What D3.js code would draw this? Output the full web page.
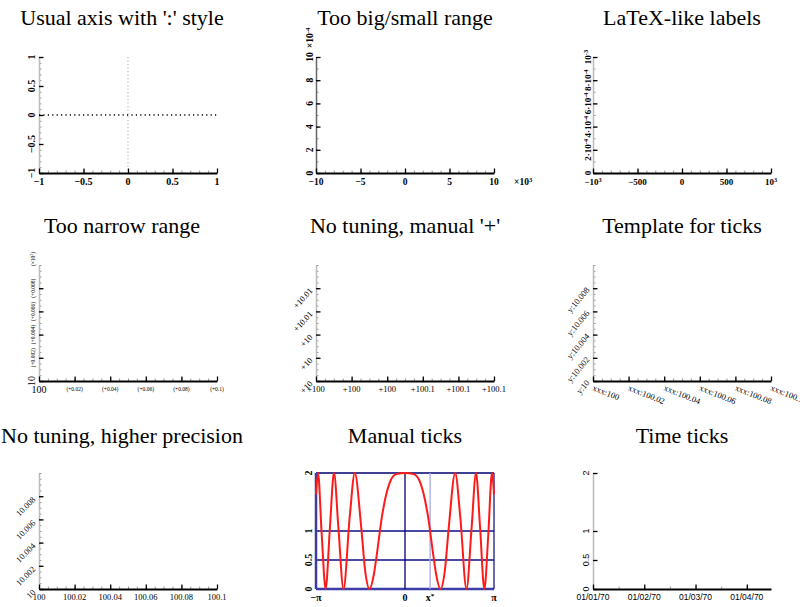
<!DOCTYPE html>
<html><head><meta charset="utf-8">
<script src="https://cdn.jsdelivr.net/npm/d3@7/dist/d3.min.js"></script>
<style>
body{margin:0;background:#fff}
text{font-family:"Liberation Serif","Times New Roman",serif;fill:#000}
</style>
</head><body>
<svg id="c" width="800" height="607"></svg>
<script>
// ---------- data ----------
const titles = ["Usual axis with ':' style","Too big/small range","LaTeX-like labels",
  "Too narrow range","No tuning, manual '+'","Template for ticks",
  "No tuning, higher precision","Manual ticks","Time ticks"];

// panel 1
const p1X = [-1,-0.5,0,0.5,1], p1XL = ["−1","−0.5","0","0.5","1"];
const p1Y = [-1,-0.5,0,0.5,1], p1YL = ["−1","−0.5","0","0.5","1"];
// panel 2 (x in 10^3, y in 10^-4)
const p2X = [-10,-5,0,5,10], p2XL = ["−10","−5","0","5","10"];
const p2Y = [0,2,4,6,8,10], p2YL = ["0","2","4","6","8","10"];
// panel 3
const p3X = [-1000,-500,0,500,1000], p3XL = ["−10^{3}","−500","0","500","10^{3}"];
const p3Y = [0,0.0002,0.0004,0.0006,0.0008,0.001], p3YL = ["0","2·10^{-4}","4·10^{-4}","6·10^{-4}","8·10^{-4}","10^{-3}"];
// narrow range panels
const nX = [100,100.02,100.04,100.06,100.08,100.1];
const nY = [10,10.002,10.004,10.006,10.008];
const p4XL = ["100","(+0.02)","(+0.04)","(+0.06)","(+0.08)","(+0.1)"];
const p4YL = ["10","(+0.002)","(+0.004)","(+0.006)","(+0.008)"];
const p5XL = ["+100","+100","+100","+100.1","+100.1","+100.1"];
const p5YL = ["+10","+10","+10","+10.01","+10.01"];
const p6XL = ["xxx:100","xxx:100.02","xxx:100.04","xxx:100.06","xxx:100.08","xxx:100.1"];
const p6YL = ["y:10","y:10.002","y:10.004","y:10.006","y:10.008"];
const p7XL = ["100","100.02","100.04","100.06","100.08","100.1"];
const p7YL = ["10","10.002","10.004","10.006","10.008"];
// panel 8 manual ticks
const p8X = [-Math.PI,0,0.886,Math.PI], p8XL = ["−π","0","x^{*}","π"];
const p8Y = [0,0.5,1,2], p8YL = ["0","0.5","1","2"];
const curveX = [-3.1416,-3.07,-2.94,-2.802,-2.65,-2.507,-2.35,-2.171,-1.95,-1.772,-1.55,-1.4,-1.253,-1.1,-1.0,-0.8,-0.5,-0.3,0,
                0.3,0.5,0.8,1.0,1.1,1.253,1.4,1.55,1.772,1.95,2.171,2.35,2.507,2.65,2.802,2.94,3.07,3.1416];
const curveY = [1.63,2,0.94,0,1.06,2,1.05,0,1.25,2,1.09,0.29,0,0.25,0.58,1.29,1.88,1.98,2,
                1.98,1.88,1.29,0.58,0.25,0,0.29,1.09,2,1.25,0,1.05,2,1.06,0,0.94,2,1.63];
// panel 9 time ticks (seconds)
const p9X = [0,86400,172800,259200], p9XL = ["01/01/70","01/02/70","01/03/70","01/04/70"];
const p9Y = [0,0.5,1,2], p9YL = ["0","0.5","1","2"];

// ---------- layout ----------
const svg = d3.select("#c");
const W = 178, H = 116;
const colX = [39,316,593], rowY = [57,265,473];
const titleCx = [122,405,682], titleY = [25,233,443];
function box(i){const c=i%3,r=Math.floor(i/3);return {x0:colX[c],y0:rowY[r],x1:colX[c]+W,y1:rowY[r]+H};}

titles.forEach((t,i)=>{
  svg.append("text").attr("x",titleCx[i%3]).attr("y",titleY[Math.floor(i/3)])
    .attr("text-anchor","middle").attr("font-size",22).text(t);
});

function label(g,x,y,str,o){
  o=o||{};
  const t=g.append("text").attr("font-size",o.size||10)
    .attr("font-weight",o.weight||"normal")
    .attr("text-anchor",o.anchor||"middle")
    .attr("transform",`translate(${x},${y}) rotate(${o.rot||0})`);
  if(o.family) t.style("font-family",o.family);
  const parts=str.split(/\^\{([^}]*)\}/);
  parts.forEach((p,k)=>{
    if(p==="") return;
    if(k%2===1){
      t.append("tspan").attr("font-size",(o.size||10)*0.7).attr("dy","-0.45em").text(p);
      if(k<parts.length-1 && parts[k+1]!=="") t.append("tspan").attr("dy","0.45em").text("");
    } else {
      const prevSup = k>0;
      const ts=t.append("tspan").text(p);
      if(prevSup) ts.attr("dy","0.32em");
    }
  });
  return t;
}

function axes(g,xs,ys,p,o){
  // y axis
  if(o.yMinor){
    const gm=g.append("g").attr("transform",`translate(${p.x0},0)`)
      .call(d3.axisLeft(ys).tickValues(o.yMinor).tickSize(-2.5).tickFormat(""));
    gm.select(".domain").remove();
    gm.selectAll("line").attr("stroke","#999");
  }
  const gy=g.append("g").attr("transform",`translate(${p.x0},0)`)
    .call(d3.axisLeft(ys).tickValues(o.yMajor).tickSizeInner(-4.5).tickSizeOuter(0).tickFormat(""));
  gy.select(".domain").attr("stroke",o.yColor||"#bbb").attr("stroke-width",1.5);
  gy.selectAll("line").attr("stroke","#000").attr("stroke-width",1.3);
  // x axis
  if(o.xMinor){
    const gm=g.append("g").attr("transform",`translate(0,${p.y1})`)
      .call(d3.axisBottom(xs).tickValues(o.xMinor).tickSize(-2.5).tickFormat(""));
    gm.select(".domain").remove();
    gm.selectAll("line").attr("stroke","#999");
  }
  const gx=g.append("g").attr("transform",`translate(0,${p.y1})`)
    .call(d3.axisBottom(xs).tickValues(o.xMajor).tickSizeInner(-4.5).tickSizeOuter(0).tickFormat(""));
  gx.select(".domain").attr("stroke","#000").attr("stroke-width",2);
  gx.selectAll("line").attr("stroke","#000").attr("stroke-width",1.3);
}

function mk(i,xd,yd){
  const p=box(i);
  return {p, g:svg.append("g"),
    xs:d3.scaleLinear().domain(xd).range([p.x0,p.x1]),
    ys:d3.scaleLinear().domain(yd).range([p.y1,p.y0])};
}

// ---- panel 1 ----
{
  const {p,g,xs,ys}=mk(0,[-1,1],[-1,1]);
  g.append("line").attr("x1",xs(0)).attr("x2",xs(0)).attr("y1",p.y0).attr("y2",p.y1)
    .attr("stroke","#bbb").attr("stroke-width",1.2).attr("stroke-dasharray","1.2,2.3");
  axes(g,xs,ys,p,{xMajor:p1X,xMinor:xs.ticks(20),yMajor:p1Y,yMinor:ys.ticks(20)});
  g.append("line").attr("x1",p.x0).attr("x2",p.x1).attr("y1",ys(0)).attr("y2",ys(0))
    .attr("stroke","#000").attr("stroke-width",1.3).attr("stroke-dasharray","1.2,3.2");
  p1X.forEach((v,k)=>label(g,xs(v),p.y1+12,p1XL[k],{size:10,weight:"bold"}));
  p1Y.forEach((v,k)=>label(g,p.x0-4,ys(v),p1YL[k],{size:10,weight:"bold",rot:-90}));
}
// ---- panel 2 ----
{
  const {p,g,xs,ys}=mk(1,[-10,10],[0,10]);
  axes(g,xs,ys,p,{xMajor:p2X,xMinor:xs.ticks(20),yMajor:p2Y,yMinor:ys.ticks(10),yColor:"#666"});
  p2X.forEach((v,k)=>label(g,xs(v),p.y1+12,p2XL[k],{size:9.5,weight:"bold"}));
  p2Y.forEach((v,k)=>label(g,p.x0-3,ys(v),p2YL[k],{size:9.5,weight:"bold",rot:-90}));
  label(g,p.x1+20,p.y1+12,"×10^{3}",{size:9.5,weight:"bold",anchor:"start"});
  label(g,p.x0-3,p.y0-19,"×10^{-4}",{size:9.5,weight:"bold",rot:-90});
}
// ---- panel 3 ----
{
  const {p,g,xs,ys}=mk(2,[-1000,1000],[0,0.001]);
  axes(g,xs,ys,p,{xMajor:p3X,xMinor:xs.ticks(20),yMajor:p3Y,yMinor:ys.ticks(10)});
  p3X.forEach((v,k)=>label(g,xs(v),p.y1+12,p3XL[k],{size:9,weight:"bold"}));
  p3Y.forEach((v,k)=>label(g,p.x0-2,ys(v),p3YL[k],{size:9,weight:"bold",rot:-90}));
}
// ---- panel 4 ----
{
  const {p,g,xs,ys}=mk(3,[100,100.1],[10,10.01]);
  axes(g,xs,ys,p,{xMajor:nX,xMinor:xs.ticks(20),yMajor:nY,yMinor:ys.ticks(20)});
  nX.forEach((v,k)=>label(g,xs(v),p.y1+(k?10:12),p4XL[k],{size:k?5.5:10}));
  nY.forEach((v,k)=>label(g,p.x0-4,ys(v),p4YL[k],{size:k?5.5:10,rot:-90}));
  label(g,p.x0-4,p.y0-6,"(×10^{2})",{size:5.5,rot:-90});
}
// ---- panel 5 ----
{
  const {p,g,xs,ys}=mk(4,[100,100.1],[10,10.01]);
  axes(g,xs,ys,p,{xMajor:nX,xMinor:xs.ticks(20),yMajor:nY,yMinor:ys.ticks(20)});
  nX.forEach((v,k)=>label(g,xs(v),p.y1+11,p5XL[k],{size:8.5}));
  nY.forEach((v,k)=>label(g,p.x0-3,ys(v)+3,p5YL[k],{size:8.5,rot:-48,anchor:"end"}));
}
// ---- panel 6 ----
{
  const {p,g,xs,ys}=mk(5,[100,100.1],[10,10.01]);
  axes(g,xs,ys,p,{xMajor:nX,xMinor:xs.ticks(20),yMajor:nY,yMinor:ys.ticks(20)});
  nX.forEach((v,k)=>label(g,xs(v)-1,p.y1+9,p6XL[k],{size:8.5,rot:22,anchor:"start"}));
  nY.forEach((v,k)=>label(g,p.x0-3,ys(v)+2,p6YL[k],{size:8.5,rot:-50,anchor:"end"}));
}
// ---- panel 7 ----
{
  const {p,g,xs,ys}=mk(6,[100,100.1],[10,10.01]);
  axes(g,xs,ys,p,{xMajor:nX,xMinor:xs.ticks(20),yMajor:nY,yMinor:ys.ticks(20)});
  nX.forEach((v,k)=>label(g,xs(v),p.y1+11,p7XL[k],{size:8.5}));
  nY.forEach((v,k)=>label(g,p.x0-3,ys(v)+4,p7YL[k],{size:8.5,rot:-45,anchor:"end"}));
}
// ---- panel 8 ----
{
  const {p,g,xs,ys}=mk(7,[-Math.PI,Math.PI],[0,2]);
  const hStyle=[["#3c3ca8",2.5],["#4a4aa4",2],["#4a4aa4",2],["#00006e",1.3]];
  p8Y.forEach((v,k)=>g.append("line").attr("x1",p.x0).attr("x2",p.x1).attr("y1",ys(v)).attr("y2",ys(v))
    .attr("stroke",hStyle[k][0]).attr("stroke-width",hStyle[k][1]));
  const vStyle=[["#3c3ca8",2.5],["#00006e",1.3],["#a8a8e6",1.3],["#1a1a80",1.3]];
  p8X.forEach((v,k)=>g.append("line").attr("x1",xs(v)).attr("x2",xs(v)).attr("y1",p.y0).attr("y2",p.y1)
    .attr("stroke",vStyle[k][0]).attr("stroke-width",vStyle[k][1]));
  const line=d3.line().x((d,k)=>xs(curveX[k])).y(d=>ys(d)).curve(d3.curveMonotoneX);
  g.append("path").attr("d",line(curveY)).attr("fill","none").attr("stroke","#ff1a1a").attr("stroke-width",2);
  p8X.forEach((v,k)=>label(g,xs(v),p.y1+12,p8XL[k],{size:10,weight:"bold"}));
  p8Y.forEach((v,k)=>label(g,p.x0-4,ys(v),p8YL[k],{size:10,weight:"bold",rot:-90}));
}
// ---- panel 9 ----
{
  const {p,g,xs,ys}=mk(8,[0,300000],[0,2]);
  axes(g,xs,ys,p,{xMajor:p9X,xMinor:d3.range(0,300000,43200),yMajor:p9Y});
  p9X.forEach((v,k)=>label(g,xs(v),p.y1+11,p9XL[k],{size:8.5,family:"'Liberation Sans',Arial,sans-serif"}));
  p9Y.forEach((v,k)=>label(g,p.x0-4,ys(v),p9YL[k],{size:9,rot:-90,family:"'Liberation Sans',Arial,sans-serif"}));
}
</script>
</body></html>
